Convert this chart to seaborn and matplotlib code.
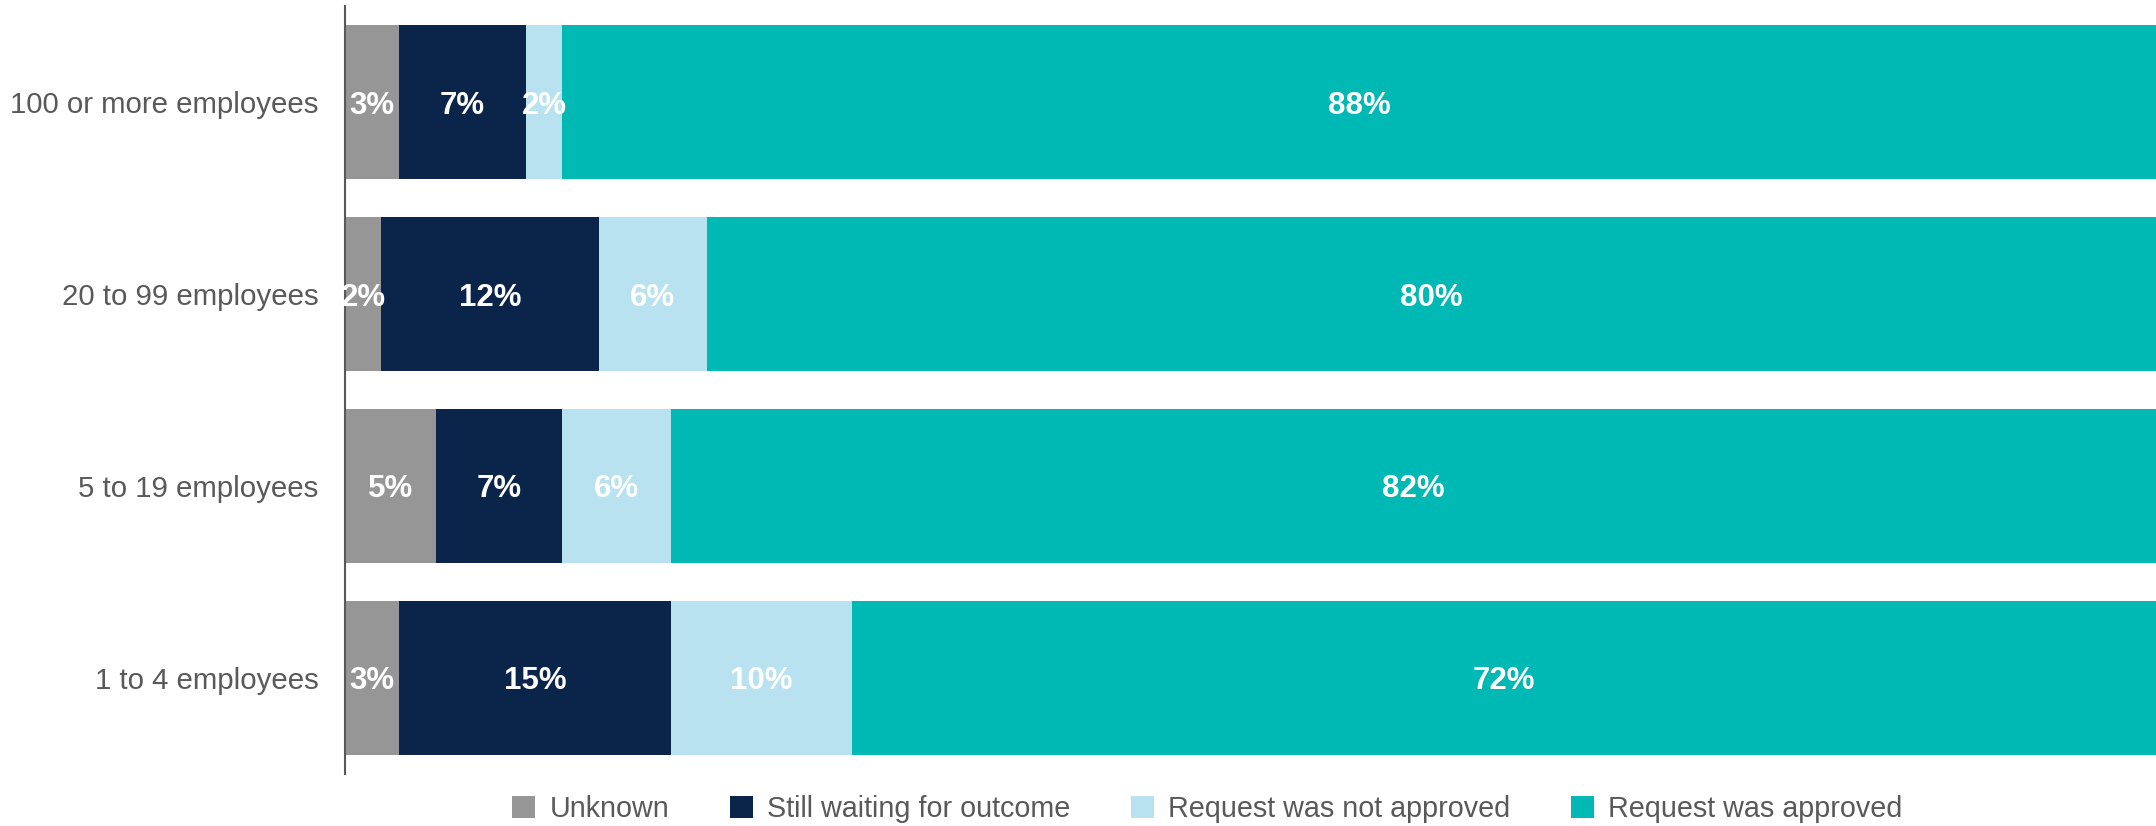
import matplotlib
matplotlib.use("Agg")
import matplotlib.pyplot as plt
from matplotlib.patches import Patch
import numpy as np
import pandas as pd
import seaborn as sns

# Survey results by firm size (percent of respondents)
categories = ["100 or more employees", "20 to 99 employees", "5 to 19 employees", "1 to 4 employees"]
series_names = ["Unknown", "Still waiting for outcome", "Request was not approved", "Request was approved"]
unknown = [3, 2, 5, 3]
waiting = [7, 12, 7, 15]
not_approved = [2, 6, 6, 10]
approved = [88, 80, 82, 72]
colors = ["#979697", "#0B2449", "#B8E2EF", "#00B8B4"]

sns.set_theme(style="white")
plt.rcParams["font.family"] = ["Liberation Sans", "DejaVu Sans"]

values = np.array([unknown, waiting, not_approved, approved], dtype=float)
cum = np.cumsum(values, axis=0)

fig = plt.figure(figsize=(21.56, 8.26), dpi=100)
ax = fig.add_axes([0.16, 0.063, 0.84, 0.9297])

# Stack by overlaying cumulative totals, largest first
for i in reversed(range(len(series_names))):
    df = pd.DataFrame({"category": categories, "value": cum[i]})
    sns.barplot(data=df, x="value", y="category", order=categories, orient="h",
                color=colors[i], saturation=1, width=0.8, linewidth=0, ax=ax)

for i in range(len(series_names)):
    for j, cat in enumerate(categories):
        v = values[i, j]
        ax.text(cum[i, j] - v / 2, j, f"{v:.0f}%", ha="center", va="center_baseline",
                color="white", fontsize=22.5, fontweight="bold")

ax.set_xlim(0, 100)
ax.set_ylim(3.5, -0.5)
ax.set_xlabel("")
ax.set_ylabel("")
ax.set_xticks([])
ax.tick_params(axis="y", length=0, pad=19, labelsize=21.2, labelcolor="#595959")
for side in ["top", "right", "bottom"]:
    ax.spines[side].set_visible(False)
ax.spines["left"].set_color("#595959")
ax.spines["left"].set_linewidth(1.5)

handles = [Patch(facecolor=c, edgecolor="none") for c in colors]
fig.legend(handles, series_names, loc="center", bbox_to_anchor=(0.56, 0.021),
           ncol=4, frameon=False, fontsize=20.7, labelcolor="#595959",
           handlelength=0.8, handleheight=0.8, handletextpad=0.5, columnspacing=2.1)

fig.savefig("out.png", dpi=100)
